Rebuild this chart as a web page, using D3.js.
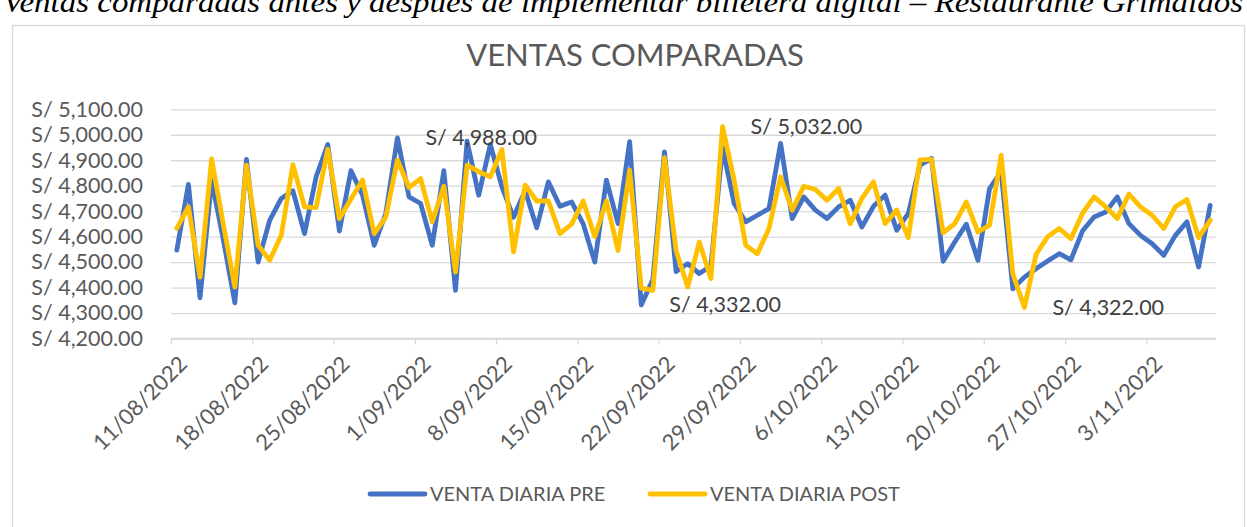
<!DOCTYPE html>
<html>
<head>
<meta charset="utf-8">
<script src="https://cdn.jsdelivr.net/npm/d3@7"></script>
<style>
  html, body { margin: 0; padding: 0; background: #ffffff; }
  svg { display: block; }
</style>
</head>
<body>
<svg id="chart" width="1247" height="527"></svg>
<script>
// Daily sales, 11/08/2022 through 08/11/2022
const dates = [
  "11/08/2022","12/08/2022","13/08/2022","14/08/2022","15/08/2022","16/08/2022","17/08/2022",
  "18/08/2022","19/08/2022","20/08/2022","21/08/2022","22/08/2022","23/08/2022","24/08/2022",
  "25/08/2022","26/08/2022","27/08/2022","28/08/2022","29/08/2022","30/08/2022","31/08/2022",
  "01/09/2022","02/09/2022","03/09/2022","04/09/2022","05/09/2022","06/09/2022","07/09/2022",
  "08/09/2022","09/09/2022","10/09/2022","11/09/2022","12/09/2022","13/09/2022","14/09/2022",
  "15/09/2022","16/09/2022","17/09/2022","18/09/2022","19/09/2022","20/09/2022","21/09/2022",
  "22/09/2022","23/09/2022","24/09/2022","25/09/2022","26/09/2022","27/09/2022","28/09/2022",
  "29/09/2022","30/09/2022","01/10/2022","02/10/2022","03/10/2022","04/10/2022","05/10/2022",
  "06/10/2022","07/10/2022","08/10/2022","09/10/2022","10/10/2022","11/10/2022","12/10/2022",
  "13/10/2022","14/10/2022","15/10/2022","16/10/2022","17/10/2022","18/10/2022","19/10/2022",
  "20/10/2022","21/10/2022","22/10/2022","23/10/2022","24/10/2022","25/10/2022","26/10/2022",
  "27/10/2022","28/10/2022","29/10/2022","30/10/2022","31/10/2022","01/11/2022","02/11/2022",
  "03/11/2022","04/11/2022","05/11/2022","06/11/2022","07/11/2022","08/11/2022"
];

const ventaPre = [
  4547, 4805, 4360, 4820, 4590, 4340, 4903, 4500, 4664, 4750,
  4780, 4612, 4835, 4962, 4622, 4859, 4763, 4566, 4691, 4988,
  4756, 4730, 4566, 4859, 4389, 4975, 4763, 4962, 4795, 4676,
  4780, 4635, 4815, 4719, 4736, 4650, 4500, 4822, 4651, 4973,
  4332, 4432, 4933, 4463, 4494, 4455, 4485, 4950, 4730, 4658,
  4684, 4710, 4966, 4671, 4756, 4704, 4671, 4717, 4743, 4638,
  4719, 4763, 4625, 4691, 4881, 4907, 4503, 4579, 4649, 4507,
  4789, 4855, 4395, 4441, 4474, 4504, 4533, 4509, 4622, 4677,
  4697, 4756, 4651, 4605, 4572, 4527, 4605, 4658, 4481, 4723
];

const ventaPost = [
  4632, 4717, 4441, 4905, 4650, 4402, 4881, 4566, 4507, 4605,
  4883, 4717, 4714, 4943, 4671, 4748, 4822, 4612, 4677, 4901,
  4793, 4828, 4658, 4798, 4461, 4881, 4855, 4835, 4942, 4540,
  4802, 4740, 4740, 4612, 4649, 4740, 4600, 4740, 4546, 4861,
  4398, 4389, 4910, 4545, 4402, 4579, 4435, 5032, 4822, 4566,
  4533, 4632, 4835, 4704, 4798, 4785, 4743, 4789, 4651, 4750,
  4815, 4651, 4704, 4596, 4901, 4903, 4615, 4651, 4736, 4618,
  4645, 4920, 4454, 4322, 4530, 4600, 4632, 4592, 4691, 4756,
  4717, 4671, 4767, 4717, 4684, 4632, 4717, 4746, 4596, 4664
];

const xTickLabels = [
  "11/08/2022","18/08/2022","25/08/2022","01/09/2022","08/09/2022","15/09/2022",
  "22/09/2022","29/09/2022","06/10/2022","13/10/2022","20/10/2022","27/10/2022","03/11/2022"
];
const yTicks = [4200, 4300, 4400, 4500, 4600, 4700, 4800, 4900, 5000, 5100];

const seriesNames = ["VENTA DIARIA PRE", "VENTA DIARIA POST"];
const seriesColors = ["#4472C4", "#FFC000"];

// Highlighted extremes: [series index, day index]
const labelledPoints = [[0, 19], [1, 47], [0, 40], [1, 73]];

const pageHeading = "Ventas comparadas antes y después de implementar billetera digital – Restaurante Grimaldos";
const chartTitle = "VENTAS COMPARADAS";

const parseDay = d3.timeParse("%d/%m/%Y");
const fmtTick = d3.timeFormat("%-d/%m/%Y");
const fmtMoney = v => "S/ " + d3.format(",.2f")(v);

const days = dates.map(parseDay);
const series = [ventaPre, ventaPost];

const svg = d3.select("#chart");
const FONT = "Lato, 'Open Sans', sans-serif";

// Document heading above the chart frame (its top runs off the page)
svg.append("text")
  .attr("x", 3).attr("y", 12)
  .attr("textLength", 1240)
  .attr("lengthAdjust", "spacingAndGlyphs")
  .style("font-family", "'Liberation Serif', 'Times New Roman', serif")
  .style("font-style", "italic")
  .style("font-size", "29px")
  .attr("fill", "#000")
  .text(pageHeading);

// Chart frame
svg.append("rect")
  .attr("x", 12.5).attr("y", 25.5)
  .attr("width", 1232).attr("height", 520)
  .attr("fill", "#fff")
  .attr("stroke", "#d9d9d9").attr("stroke-width", 1.3);

svg.append("text")
  .attr("x", 635).attr("y", 66)
  .attr("text-anchor", "middle")
  .style("font-family", FONT)
  .style("font-size", "31px")
  .attr("fill", "#595959")
  .text(chartTitle);

// Scales
const x0 = days[0];
const xEnd = d3.timeDay.offset(days[days.length - 1], 1);
const x = d3.scaleTime().domain([x0, xEnd]).range([171, 1216]);
const y = d3.scaleLinear().domain([4200, 5100]).range([338.5, 109.3]);
const mid = d => d3.timeHour.offset(d, 12);

// Gridlines and value labels
const yAxis = d3.axisLeft(y).tickValues(yTicks).tickSize(-(1216 - 171)).tickFormat(fmtMoney).tickPadding(28);
const gy = svg.append("g").attr("transform", "translate(171,0)").call(yAxis);
gy.select(".domain").remove();
gy.selectAll(".tick line").attr("stroke", "#d9d9d9").attr("stroke-width", 1.3);
gy.selectAll(".tick text")
  .style("font-family", FONT).style("font-size", "21.5px")
  .attr("fill", "#595959");

// Date axis
const xAxis = d3.axisBottom(x)
  .tickValues(xTickLabels.map(parseDay))
  .tickSize(6)
  .tickFormat(fmtTick);
const gx = svg.append("g").attr("transform", "translate(0,338.5)").call(xAxis);
gx.select(".domain").attr("stroke", "#d9d9d9").attr("stroke-width", 1.3).attr("d", "M171,0H1216");
gx.selectAll(".tick line").attr("stroke", "#d9d9d9").attr("stroke-width", 1.3);
gx.selectAll(".tick text")
  .style("font-family", FONT).style("font-size", "22px")
  .attr("fill", "#595959")
  .attr("text-anchor", "end")
  .attr("x", 0).attr("y", 0).attr("dy", 0)
  .attr("transform", "translate(17,27) rotate(-45)");

// Series lines
const line = d3.line()
  .x((d, i) => x(mid(days[i])))
  .y(d => y(d));

series.forEach((vals, s) => {
  svg.append("path")
    .datum(vals)
    .attr("d", line)
    .attr("fill", "none")
    .attr("stroke", seriesColors[s])
    .attr("stroke-width", 4.8)
    .attr("stroke-linejoin", "round")
    .attr("stroke-linecap", "round");
});

// Value labels on the extremes, placed to the right of each point
svg.append("g").selectAll("text")
  .data(labelledPoints)
  .join("text")
  .attr("x", d => x(mid(days[d[1]])) + 28)
  .attr("y", d => y(series[d[0]][d[1]]))
  .attr("dy", "0.35em")
  .style("font-family", FONT).style("font-size", "21.5px")
  .attr("fill", "#404040")
  .text(d => fmtMoney(series[d[0]][d[1]]));

// Legend
const legendItems = [{x: 370, tx: 430}, {x: 650, tx: 710}];
const lg = svg.append("g");
seriesNames.forEach((name, s) => {
  lg.append("line")
    .attr("x1", legendItems[s].x).attr("x2", legendItems[s].x + 55)
    .attr("y1", 494).attr("y2", 494)
    .attr("stroke", seriesColors[s]).attr("stroke-width", 4.8)
    .attr("stroke-linecap", "round");
  lg.append("text")
    .attr("x", legendItems[s].tx).attr("y", 494)
    .attr("dy", "0.35em")
    .style("font-family", FONT).style("font-size", "20px")
    .attr("fill", "#595959")
    .text(name);
});
</script>
</body>
</html>
